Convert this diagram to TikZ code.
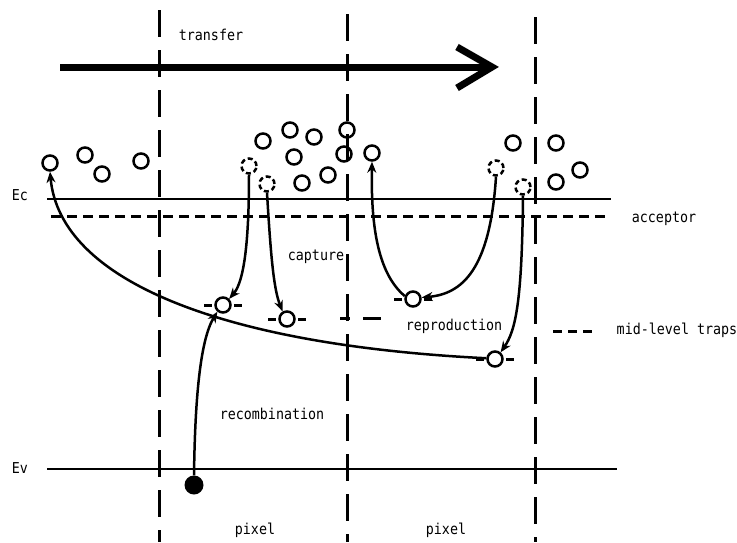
\documentclass[tikz,border=0pt]{standalone}
\usepackage{fontspec}
\newfontfamily\labfont[FakeStretch=0.89]{DejaVu Sans Mono}
\usetikzlibrary{arrows.meta}
\begin{document}
\begin{tikzpicture}[x=1pt,y=-1pt,
 elec/.style={circle,draw,line width=2.5pt,minimum size=15pt,inner sep=0pt},
 ghost/.style={elec,dash pattern=on 5pt off 3pt},
 hole/.style={circle,fill,minimum size=19pt,inner sep=0pt},
 lab/.style={font=\labfont\fontsize{15}{17}\selectfont,inner sep=0pt},
 pixline/.style={line width=3pt,dash pattern=on 27pt off 13pt},
 band/.style={line width=2.5pt},
 accline/.style={line width=3pt,dash pattern=on 10pt off 6pt},
 flow/.style={line width=2.5pt,-{Stealth[length=11pt,width=9pt]}},
 trapdash/.style={line width=3pt}]
\useasboundingbox (0,0) rectangle (737,542);
\fill[white] (0,0) rectangle (737,542);

% pixel boundaries
\coordinate (v1t) at (159,10);  \coordinate (v1b) at (159,542);
\coordinate (v2t) at (347,14);  \coordinate (v2b) at (347,542);
\coordinate (v3t) at (535,17);  \coordinate (v3b) at (535,542);
\draw[pixline] (v1t) -- (v1b);
\draw[pixline] (v2t) -- (v2b);
\draw[pixline] (v3t) -- (v3b);

% transfer arrow
\coordinate (ta) at (60,67); \coordinate (tb) at (492,67);
\coordinate (th1) at (457,47); \coordinate (th2) at (457,88);
\draw[line width=7pt] (ta) -- (tb);
\draw[line width=7pt,line join=miter] (th1) -- (tb) -- (th2);
\node[lab] (ltransfer) at (211,35) {transfer};

% bands
\coordinate (ec1) at (47,199); \coordinate (ec2) at (611,199);
\coordinate (ac1) at (51,216); \coordinate (ac2) at (611,216);
\coordinate (ev1) at (47,469); \coordinate (ev2) at (617,469);
\draw[band] (ec1) -- (ec2);
\draw[accline] (ac1) -- (ac2);
\draw[band] (ev1) -- (ev2);
\node[lab] (lec) at (20,195) {Ec};
\node[lab] (lev) at (20,468) {Ev};
\node[lab] (lacc) at (664,219) {acceptor};

% electrons
\node[elec] (e1) at (50,163) {};
\node[elec] (e2) at (85,155) {};
\node[elec] (e3) at (102,174) {};
\node[elec] (e4) at (141,161) {};
\node[elec] (e5) at (263,141) {};
\node[elec] (e6) at (290,130) {};
\node[elec] (e7) at (314,137) {};
\node[elec] (e8) at (294,157) {};
\node[elec] (e9) at (302,183) {};
\node[elec] (e10) at (328,175) {};
\node[elec] (e11) at (347,130) {};
\node[elec] (e12) at (344,154) {};
\node[elec] (e13) at (372,153) {};
\node[elec] (e14) at (513,143) {};
\node[elec] (e15) at (556,143) {};
\node[elec] (e16) at (556,182) {};
\node[elec] (e17) at (580,170) {};
\node[ghost] (g1) at (249,166) {};
\node[ghost] (g2) at (267,184) {};
\node[ghost] (g3) at (496,168) {};
\node[ghost] (g4) at (523,187) {};

% traps
\node[elec] (t1) at (223,305) {};
\node[elec] (t2) at (287,319) {};
\node[elec] (t3) at (413,299) {};
\node[elec] (t4) at (495,359) {};
\foreach \t in {t1,t2,t3,t4}{
  \draw[trapdash] ([xshift=-19pt]\t.center) -- ([xshift=-11pt]\t.center);
  \draw[trapdash] ([xshift=11pt]\t.center) -- ([xshift=19pt]\t.center);
}
\coordinate (md1) at (340,318); \coordinate (md2) at (350,318);
\coordinate (md3) at (363,318); \coordinate (md4) at (381,318);
\draw[trapdash] (md1) -- (md2);
\draw[trapdash] (md3) -- (md4);

% hole
\node[hole] (h) at (194,485) {};

% transitions
\draw[flow] (t4.175) .. controls (220,345) and (60,280) .. (e1.south);
\draw[flow] (g1.south) .. controls (249,260) and (241,285) .. (t1.45);
\draw[flow] (g2.south) .. controls (271,260) and (274,290) .. (t2.120);
\draw[flow] (g3.south) .. controls (490,270) and (462,294) .. (t3.10);
\draw[flow] (t3.160) .. controls (376,272) and (371,220) .. (e13.south);
\draw[flow] (g4.south) .. controls (522,300) and (516,330) .. (t4.50);
\draw[flow] (h.north) .. controls (195,400) and (200,340) .. (t1.230);

% labels
\node[lab] (lcap) at (316,257) {capture};
\node[lab] (lrep) at (454,326) {reproduction};
\node[lab] (lrec) at (272,414) {recombination};
\node[lab] (lpx1) at (255,530) {pixel};
\node[lab] (lpx2) at (446,530) {pixel};

% legend
\coordinate (lg1) at (553,331); \coordinate (lg2) at (593,331);
\draw[trapdash,dash pattern=on 9pt off 6pt] (lg1) -- (lg2);
\node[lab] (lmid) at (677,330) {mid-level traps};
\end{tikzpicture}
\end{document}
